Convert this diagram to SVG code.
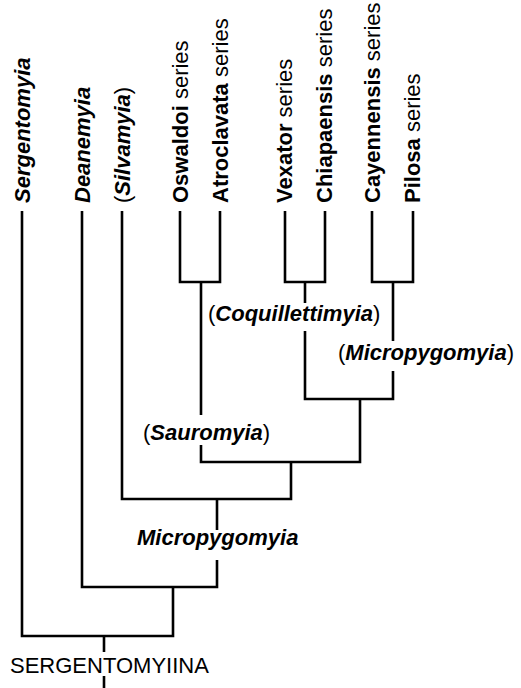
<svg xmlns="http://www.w3.org/2000/svg" width="521" height="688" viewBox="0 0 521 688">
<style>
text{font-family:"Liberation Sans",Arial,sans-serif;font-size:22px;fill:#000}
.b{font-weight:bold}
.bi{font-weight:bold;font-style:italic}
.e{fill:none;stroke:#000;stroke-width:2.6;stroke-linecap:butt;stroke-linejoin:miter}
</style>
<rect width="521" height="688" fill="#fff"/>
<g id="connectors">
<path class="e" d="M180,211V282H220V211"/>
<path class="e" d="M201,282V415"/>
<path class="e" d="M201,445V462H360V399"/>
<path class="e" d="M285,211V282H325V211"/>
<path class="e" d="M305,282V303"/>
<path class="e" d="M305,331V399H393V371"/>
<path class="e" d="M372,211V282H413V211"/>
<path class="e" d="M393,282V341"/>
<path class="e" d="M122,211V499H291V462"/>
<path class="e" d="M217,499V530"/>
<path class="e" d="M217,560V587H82V211"/>
<path class="e" d="M173,587V636H22V211"/>
<path class="e" d="M104,636V652"/>
<path class="e" d="M104,676V688"/>
</g>
<g id="sergentomyia"><text class="bi" transform="translate(30,203) rotate(-90)">Sergentomyia</text></g>
<g id="deanemyia"><text class="bi" transform="translate(89.5,203) rotate(-90)">Deanemyia</text></g>
<g id="silvamyia"><text transform="translate(129.5,203) rotate(-90)">(<tspan class="bi">Silvamyia</tspan>)</text></g>
<g id="oswaldoi"><text transform="translate(187.5,203) rotate(-90)"><tspan class="b">Oswaldoi</tspan> series</text></g>
<g id="atroclavata"><text transform="translate(227.5,203) rotate(-90)"><tspan class="b">Atroclavata</tspan> series</text></g>
<g id="vexator"><text transform="translate(292,203) rotate(-90)"><tspan class="b">Vexator</tspan> series</text></g>
<g id="chiapaensis"><text transform="translate(332,203) rotate(-90)"><tspan class="b">Chiapaensis</tspan> series</text></g>
<g id="cayennensis"><text transform="translate(379.5,203) rotate(-90)"><tspan class="b">Cayennensis</tspan> series</text></g>
<g id="pilosa"><text transform="translate(420,203) rotate(-90)"><tspan class="b">Pilosa</tspan> series</text></g>
<g id="coquillettimyia"><text x="208" y="321">(<tspan class="bi">Coquillettimyia</tspan>)</text></g>
<g id="micropygomyia-sub"><text x="338" y="360">(<tspan class="bi">Micropygomyia</tspan>)</text></g>
<g id="sauromyia"><text x="143" y="440">(<tspan class="bi">Sauromyia</tspan>)</text></g>
<g id="micropygomyia"><text class="bi" x="137" y="545">Micropygomyia</text></g>
<g id="sergentomyiina"><text x="10" y="673">SERGENTOMYIINA</text></g>
</svg>
